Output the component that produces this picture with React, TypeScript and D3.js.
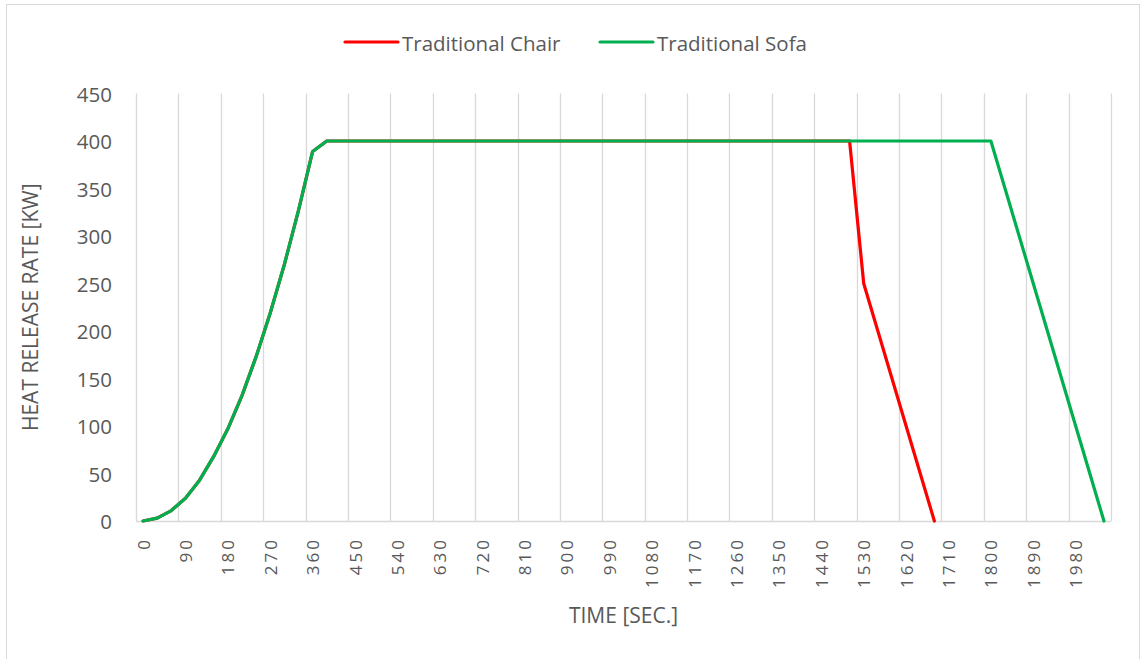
import React from "react"
import * as d3 from "d3"

// time categories (sec) on the category axis
const TIMES = [
  0, 30, 60, 90, 120, 150, 180, 210, 240, 270, 300, 330, 360, 390, 420, 450,
  480, 510, 540, 570, 600, 630, 660, 690, 720, 750, 780, 810, 840, 870, 900,
  930, 960, 990, 1020, 1050, 1080, 1110, 1140, 1170, 1200, 1230, 1260, 1290,
  1320, 1350, 1380, 1410, 1440, 1470, 1500, 1530, 1560, 1590, 1620, 1650, 1680,
  1710, 1740, 1770, 1800, 1830, 1860, 1890, 1920, 1950, 1980, 2010, 2040,
]

const CHAIR = [
  0, 3, 11, 24, 43, 68, 97, 132, 173, 219, 270, 327, 389,
  400, 400, 400, 400, 400, 400, 400, 400,
  400, 400, 400, 400, 400, 400, 400, 400,
  400, 400, 400, 400, 400, 400, 400, 400,
  400, 400, 400, 400, 400, 400, 400, 400,
  400, 400, 400, 400, 400, 400,
  250, 200, 150, 100, 50, 0,
]

const SOFA = [
  0, 3, 11, 24, 43, 68, 97, 132, 173, 219, 270, 327, 389,
  400, 400, 400, 400, 400, 400, 400, 400,
  400, 400, 400, 400, 400, 400, 400, 400,
  400, 400, 400, 400, 400, 400, 400, 400,
  400, 400, 400, 400, 400, 400, 400, 400,
  400, 400, 400, 400, 400, 400, 400, 400,
  400, 400, 400, 400, 400, 400, 400, 400,
  350, 300, 250, 200, 150, 100, 50, 0,
]

const Y_TICKS = [0, 50, 100, 150, 200, 250, 300, 350, 400, 450]

const SERIES = [
  { name: "Traditional Chair", values: CHAIR, color: "#ff0000" },
  { name: "Traditional Sofa", values: SOFA, color: "#00b050" },
]

const FONT = "'Open Sans', 'Noto Sans', sans-serif"
const TEXT = "#595959"
const GRID = "#d9d9d9"

export default function App() {
  const width = 1141
  const height = 659
  const plot = { left: 136, right: 1111, top: 93.5, bottom: 521 }

  const x = d3
    .scaleBand<number>()
    .domain(TIMES)
    .range([plot.left, plot.right])
    .padding(0)
  const y = d3.scaleLinear().domain([0, 450]).range([plot.bottom, plot.top])
  const cx = (t: number) => (x(t) as number) + x.bandwidth() / 2

  const line = d3
    .line<number>()
    .defined(v => v != null)
    .x((_, i) => cx(TIMES[i]))
    .y(v => y(v))

  // gridlines every 3rd category boundary, labels every 3rd category
  const gridIdx = d3.range(0, TIMES.length + 1, 3)
  const labelTimes = TIMES.filter((_, i) => i % 3 === 0)

  return (
    <svg
      width={width}
      height={height}
      style={{ position: "fixed", left: 0, top: 0, background: "#fff" }}
      fontFamily={FONT}
    >
      <rect x={6.5} y={4.5} width={1133} height={680} fill="#fff" stroke={GRID} />

      {/* vertical gridlines */}
      {gridIdx.map(i => {
        const gx = Math.round(plot.left + i * x.bandwidth()) + 0.5
        return (
          <line
            key={i}
            x1={gx}
            x2={gx}
            y1={plot.top}
            y2={plot.bottom}
            stroke={GRID}
            strokeWidth={1.3}
          />
        )
      })}
      <line
        x1={plot.left}
        x2={plot.right}
        y1={plot.bottom + 0.5}
        y2={plot.bottom + 0.5}
        stroke={GRID}
        strokeWidth={1.3}
      />

      {/* y tick labels */}
      {Y_TICKS.map(t => (
        <text
          key={t}
          x={112}
          y={y(t)}
          textAnchor="end"
          dominantBaseline="central"
          fontSize={20.5}
          fill={TEXT}
        >
          {t}
        </text>
      ))}

      {/* x tick labels */}
      {labelTimes.map(t => (
        <text
          key={t}
          transform={`translate(${cx(t)}, 537) rotate(-90)`}
          textAnchor="end"
          dominantBaseline="central"
          fontSize={17}
          letterSpacing={3}
          fill={TEXT}
        >
          {t}
        </text>
      ))}

      {/* series */}
      {SERIES.map(s => (
        <path
          key={s.name}
          d={line(s.values) || ""}
          fill="none"
          stroke={s.color}
          strokeWidth={3.2}
          strokeLinejoin="round"
          strokeLinecap="round"
        />
      ))}

      {/* axis titles */}
      <text
        transform={`translate(30, ${(plot.top + plot.bottom) / 2}) rotate(-90)`}
        textAnchor="middle"
        dominantBaseline="central"
        fontSize={21}
        fill={TEXT}
      >
        HEAT RELEASE RATE [KW]
      </text>
      <text
        x={(plot.left + plot.right) / 2}
        y={615}
        textAnchor="middle"
        dominantBaseline="central"
        fontSize={21}
        fill={TEXT}
      >
        TIME [SEC.]
      </text>

      {/* legend */}
      {SERIES.map((s, i) => {
        const lx = 345 + i * 255
        return (
          <g key={s.name}>
            <line
              x1={lx}
              x2={lx + 53}
              y1={42}
              y2={42}
              stroke={s.color}
              strokeWidth={3.2}
              strokeLinecap="round"
            />
            <text
              x={lx + 57}
              y={43}
              dominantBaseline="central"
              fontSize={20.5}
              fill={TEXT}
            >
              {s.name}
            </text>
          </g>
        )
      })}
    </svg>
  )
}
